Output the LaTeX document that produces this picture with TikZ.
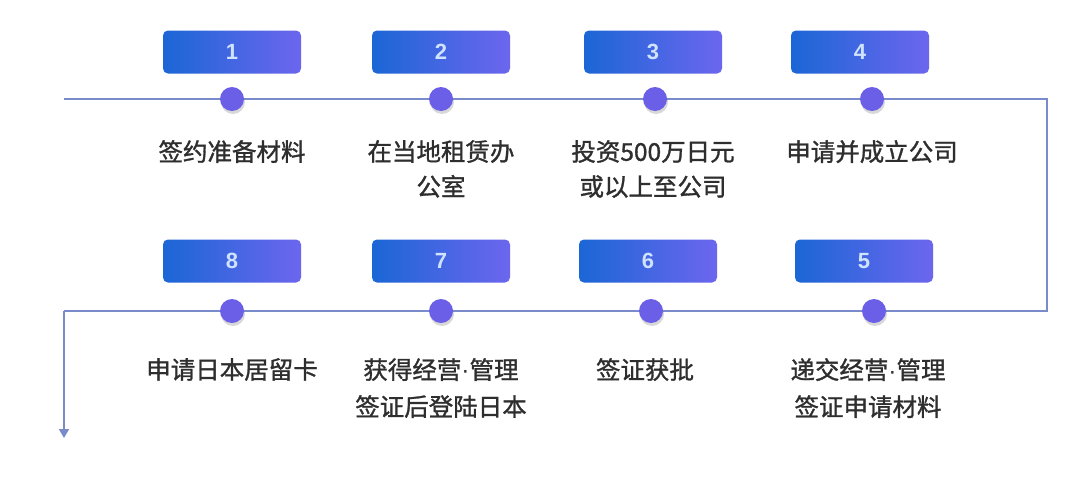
\documentclass[tikz,border=0pt]{standalone}
\usepackage{fontspec}
\setmainfont{Noto Sans CJK SC}
\newfontfamily\cjkb[FakeBold=1.2]{Noto Sans CJK SC}
\newfontfamily\numf{Liberation Sans}
\newfontfamily\latinf{Liberation Sans}
\newcommand{\mdot}{{\latinf\textperiodcentered}}
\usetikzlibrary{shadows,arrows.meta}
\definecolor{boxL}{HTML}{1B66D6}
\definecolor{boxR}{HTML}{6C66EE}
\definecolor{dotc}{HTML}{6A5FE6}
\definecolor{linec}{HTML}{7A8BCB}
\definecolor{txt}{HTML}{2E2E2E}
\definecolor{numc}{HTML}{CFE2FF}
\begin{document}
\begin{tikzpicture}[x=1pt,y=-1pt,
  numbox/.style={rounded corners=5pt, left color=boxL, right color=boxR, minimum width=138pt, minimum height=43pt, text=numc, font=\numf\bfseries\fontsize{22}{22}\selectfont, inner sep=0pt},
  stepdot/.style={circle, fill=dotc, minimum size=24pt, inner sep=0pt, drop shadow={shadow xshift=1pt, shadow yshift=-3pt, opacity=0.25, fill=black!60}},
  lbl/.style={text=txt, font=\cjkb\fontsize{24.5}{35}\selectfont, align=center, anchor=north, inner sep=0pt},
  lblb/.style={lbl, font=\cjkb\fontsize{24.5}{37}\selectfont},
  flow/.style={draw=linec, line width=1.6pt}]
\useasboundingbox (0,0) rectangle (1080,477);
\fill[white] (0,0) rectangle (1080,477);
% path
\coordinate (ts) at (64,99);
\coordinate (te) at (1047,99);
\coordinate (be) at (1047,311);
\coordinate (bs) at (64,311);
\coordinate (arr) at (64,438);
\draw[flow] (ts) -- (te) -- (be) -- (bs);
\draw[flow, -{Triangle[length=9pt,width=10pt]}] (bs) -- (arr);
% boxes
\node[numbox] (b1) at (232,52) {1};
\node[numbox] (b2) at (441,52) {2};
\node[numbox] (b3) at (653,52) {3};
\node[numbox] (b4) at (860,52) {4};
\node[numbox] (b8) at (232,261) {8};
\node[numbox] (b7) at (441,261) {7};
\node[numbox] (b6) at (648,261) {6};
\node[numbox] (b5) at (864,261) {5};
% dots
\node[stepdot] (d1) at (232,99) {};
\node[stepdot] (d2) at (441,99) {};
\node[stepdot] (d3) at (655,99) {};
\node[stepdot] (d4) at (872,99) {};
\node[stepdot] (d8) at (232,311) {};
\node[stepdot] (d7) at (441,311) {};
\node[stepdot] (d6) at (651,311) {};
\node[stepdot] (d5) at (874,311) {};
% labels
\node[lbl] (l1) at (232,140) {签约准备材料};
\node[lbl] (l2) at (441,140) {在当地租赁办\\公室};
\node[lbl] (l3) at (653,140) {投资500万日元\\或以上至公司};
\node[lbl] (l4) at (872,140) {申请并成立公司};
\node[lblb] (l8) at (232,358) {申请日本居留卡};
\node[lblb] (l7) at (441,358) {获得经营\mdot 管理\\签证后登陆日本};
\node[lblb] (l6) at (645,358) {签证获批};
\node[lblb] (l5) at (868,358) {递交经营\mdot 管理\\签证申请材料};
\end{tikzpicture}
\end{document}
